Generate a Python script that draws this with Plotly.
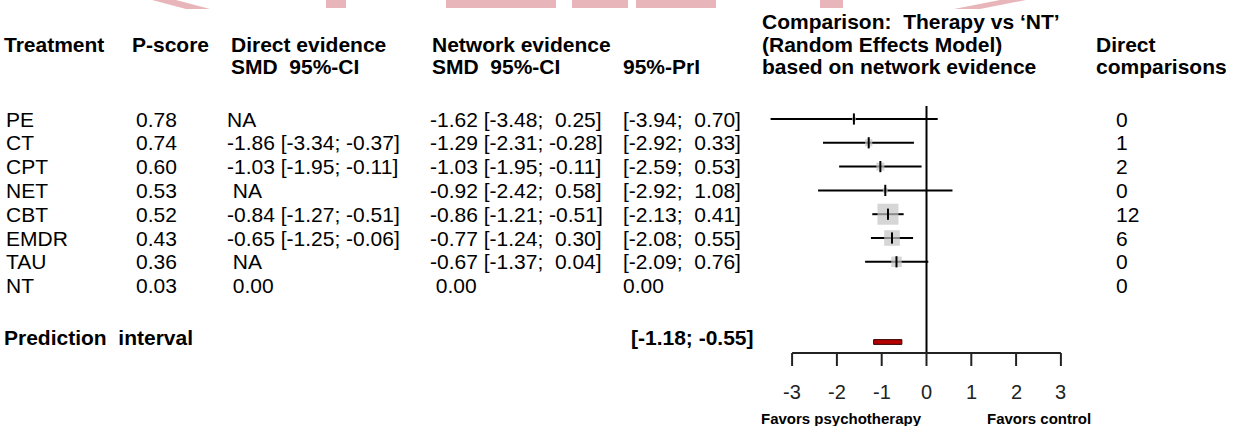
import plotly.graph_objects as go

# ---------------- data ----------------
treatments = ["PE", "CT", "CPT", "NET", "CBT", "EMDR", "TAU", "NT"]
p_scores = ["0.78", "0.74", "0.60", "0.53", "0.52", "0.43", "0.36", "0.03"]
direct_text = ["NA", "-1.86 [-3.34; -0.37]", "-1.03 [-1.95; -0.11]", " NA",
               "-0.84 [-1.27; -0.51]", "-0.65 [-1.25; -0.06]", " NA", " 0.00"]
network_text = ["-1.62 [-3.48;  0.25]", "-1.29 [-2.31; -0.28]", "-1.03 [-1.95; -0.11]",
                "-0.92 [-2.42;  0.58]", "-0.86 [-1.21; -0.51]", "-0.77 [-1.24;  0.30]",
                "-0.67 [-1.37;  0.04]", " 0.00"]
pri_text = ["[-3.94;  0.70]", "[-2.92;  0.33]", "[-2.59;  0.53]", "[-2.92;  1.08]",
            "[-2.13;  0.41]", "[-2.08;  0.55]", "[-2.09;  0.76]", "0.00"]
n_direct = [0, 1, 2, 0, 12, 6, 0, 0]

# network estimates drawn in the forest plot (NT is the reference)
smd = [-1.62, -1.29, -1.03, -0.92, -0.86, -0.77, -0.67]
ci_lower = [-3.48, -2.31, -1.95, -2.42, -1.21, -1.24, -1.37]
ci_upper = [0.25, -0.28, -0.11, 0.58, -0.51, -0.30, 0.04]
pred_interval = [-1.18, -0.55]
pred_label = "[-1.18; -0.55]"
tick_vals = [-3, -2, -1, 0, 1, 2, 3]

# ---------------- layout helpers ----------------
W, H = 1241, 426
FONT = "Liberation Sans, Arial, sans-serif"
ROW0_PX, ROW_PX = 119.0, 23.8          # first row centre / row pitch (pixels)


def nb(s):
    return s.replace(" ", "\u00a0")


def px_to_row(py):
    return (py - ROW0_PX) / ROW_PX


PRED_ROW = px_to_row(337)
PRED_BAR = px_to_row(342)
AXIS_ROW = px_to_row(353)
TICK_END = px_to_row(366)
TICKLAB_ROW = px_to_row(392)
FAVORS_ROW = px_to_row(418)
ZERO_TOP = px_to_row(106)

fig = go.Figure()

# CI lines
xs, ys = [], []
for i, (lo, hi) in enumerate(zip(ci_lower, ci_upper)):
    xs += [lo, hi, None]
    ys += [i, i, None]
fig.add_trace(go.Scatter(x=xs, y=ys, mode="lines", line=dict(color="black", width=2),
                         hoverinfo="skip", showlegend=False))

# grey squares, sized by precision (1/SE)
se = [(hi - lo) / 3.92 for lo, hi in zip(ci_lower, ci_upper)]
sizes = [3.75 / s for s in se]
fig.add_trace(go.Scatter(x=smd, y=list(range(len(smd))), mode="markers",
                         marker=dict(symbol="square", size=sizes, color="#c4c4c4",
                                     line=dict(width=0)),
                         hoverinfo="skip", showlegend=False))
# black estimate tick
fig.add_trace(go.Scatter(x=smd, y=list(range(len(smd))), mode="markers",
                         marker=dict(symbol="line-ns", size=8,
                                     line=dict(color="black", width=2)),
                         hoverinfo="skip", showlegend=False))

# zero line
fig.add_trace(go.Scatter(x=[0, 0], y=[ZERO_TOP, AXIS_ROW], mode="lines",
                         line=dict(color="black", width=2), hoverinfo="skip", showlegend=False))

# axis line with ticks
ax_x = [tick_vals[0], tick_vals[-1], None]
ax_y = [AXIS_ROW, AXIS_ROW, None]
for t in tick_vals:
    ax_x += [t, t, None]
    ax_y += [AXIS_ROW, TICK_END, None]
fig.add_trace(go.Scatter(x=ax_x, y=ax_y, mode="lines", line=dict(color="#222222", width=2),
                         hoverinfo="skip", showlegend=False))

# prediction interval bar
fig.add_shape(type="rect", xref="x", yref="y", x0=pred_interval[0], x1=pred_interval[1],
              y0=PRED_BAR - 0.1, y1=PRED_BAR + 0.1,
              fillcolor="#b40000", line=dict(color="#3a0000", width=1))

ann = []


def add_text(x, y, text, size=21, bold=False, xref="paper", yref="y", xanchor="left",
             color="black"):
    t = nb(text)
    if bold:
        t = "<b>" + t + "</b>"
    ann.append(dict(x=x, y=y, xref=xref, yref=yref, text=t, showarrow=False,
                    xanchor=xanchor, yanchor="middle", borderpad=0,
                    font=dict(family=FONT, size=size, color=color)))


def pxx(px):
    return px / W


def pxy(py):
    return 1 - py / H


# headers
add_text(pxx(3), pxy(44), "Treatment", bold=True, yref="paper")
add_text(pxx(131), pxy(44), "P-score", bold=True, yref="paper")
add_text(pxx(230), pxy(44), "Direct evidence", bold=True, yref="paper")
add_text(pxx(431), pxy(44), "Network evidence", bold=True, yref="paper")
add_text(pxx(230), pxy(67), "SMD  95%-CI", bold=True, yref="paper")
add_text(pxx(431), pxy(67), "SMD  95%-CI", bold=True, yref="paper")
add_text(pxx(622), pxy(67), "95%-PrI", bold=True, yref="paper")
add_text(pxx(761), pxy(21), "Comparison:  Therapy vs \u2018NT\u2019", bold=True, yref="paper")
add_text(pxx(761), pxy(44), "(Random Effects Model)", bold=True, yref="paper")
add_text(pxx(761), pxy(67), "based on network evidence", bold=True, yref="paper")
add_text(pxx(1095), pxy(44), "Direct", bold=True, yref="paper")
add_text(pxx(1095), pxy(67), "comparisons", bold=True, yref="paper")

# table rows
for i, name in enumerate(treatments):
    add_text(pxx(5), i, name)
    add_text(pxx(135), i, p_scores[i])
    add_text(pxx(226), i, direct_text[i])
    add_text(pxx(429), i, network_text[i])
    add_text(pxx(622), i, pri_text[i])
    add_text(pxx(1115), i, str(n_direct[i]))

# prediction interval row
add_text(pxx(3), PRED_ROW, "Prediction  interval", bold=True)
add_text(pxx(630), PRED_ROW, pred_label, bold=True)

# tick labels
for t in tick_vals:
    add_text(t, TICKLAB_ROW, str(t), size=20, xref="x", xanchor="center", color="#222222")

add_text(pxx(760), FAVORS_ROW, "Favors psychotherapy", size=15, bold=True)
add_text(pxx(986), FAVORS_ROW, "Favors control", size=15, bold=True)

# faint watermark fragments at the top edge
PINK = "#e8b6ba"
wm_h = 8 / H


def wm_path(pts):
    return "M " + " L ".join(f"{x / W:.5f},{1 - y / H:.5f}" for x, y in pts) + " Z"


fig.add_shape(type="path", xref="paper", yref="paper", layer="below",
              path=wm_path([(152, 0), (176, 0), (210, 9), (186, 9)]),
              fillcolor=PINK, line=dict(width=0))
for x0, x1 in [(326, 346), (446, 556), (572, 628), (636, 716), (820, 843)]:
    fig.add_shape(type="rect", xref="paper", yref="paper", layer="below",
                  x0=x0 / W, x1=x1 / W, y0=1 - wm_h, y1=1,
                  fillcolor=PINK, line=dict(width=0))
fig.add_shape(type="path", xref="paper", yref="paper", layer="below",
              path=wm_path([(1000, 0), (1026, 0), (980, 9), (954, 9)]),
              fillcolor=PINK, line=dict(width=0))

x_left, x_right = -4.0, 4.0
zero_px, unit_px = 926.5, 44.8
fig.update_layout(
    width=W, height=H,
    margin=dict(l=0, r=0, t=0, b=0),
    paper_bgcolor="white", plot_bgcolor="rgba(0,0,0,0)",
    showlegend=False,
    annotations=ann,
    xaxis=dict(domain=[(zero_px + x_left * unit_px) / W, (zero_px + x_right * unit_px) / W],
               range=[x_left, x_right], visible=False, fixedrange=True),
    yaxis=dict(domain=[0, 1], range=[px_to_row(H), px_to_row(0)], visible=False,
               fixedrange=True),
)

fig.write_html("out.html", config={"displayModeBar": False})
